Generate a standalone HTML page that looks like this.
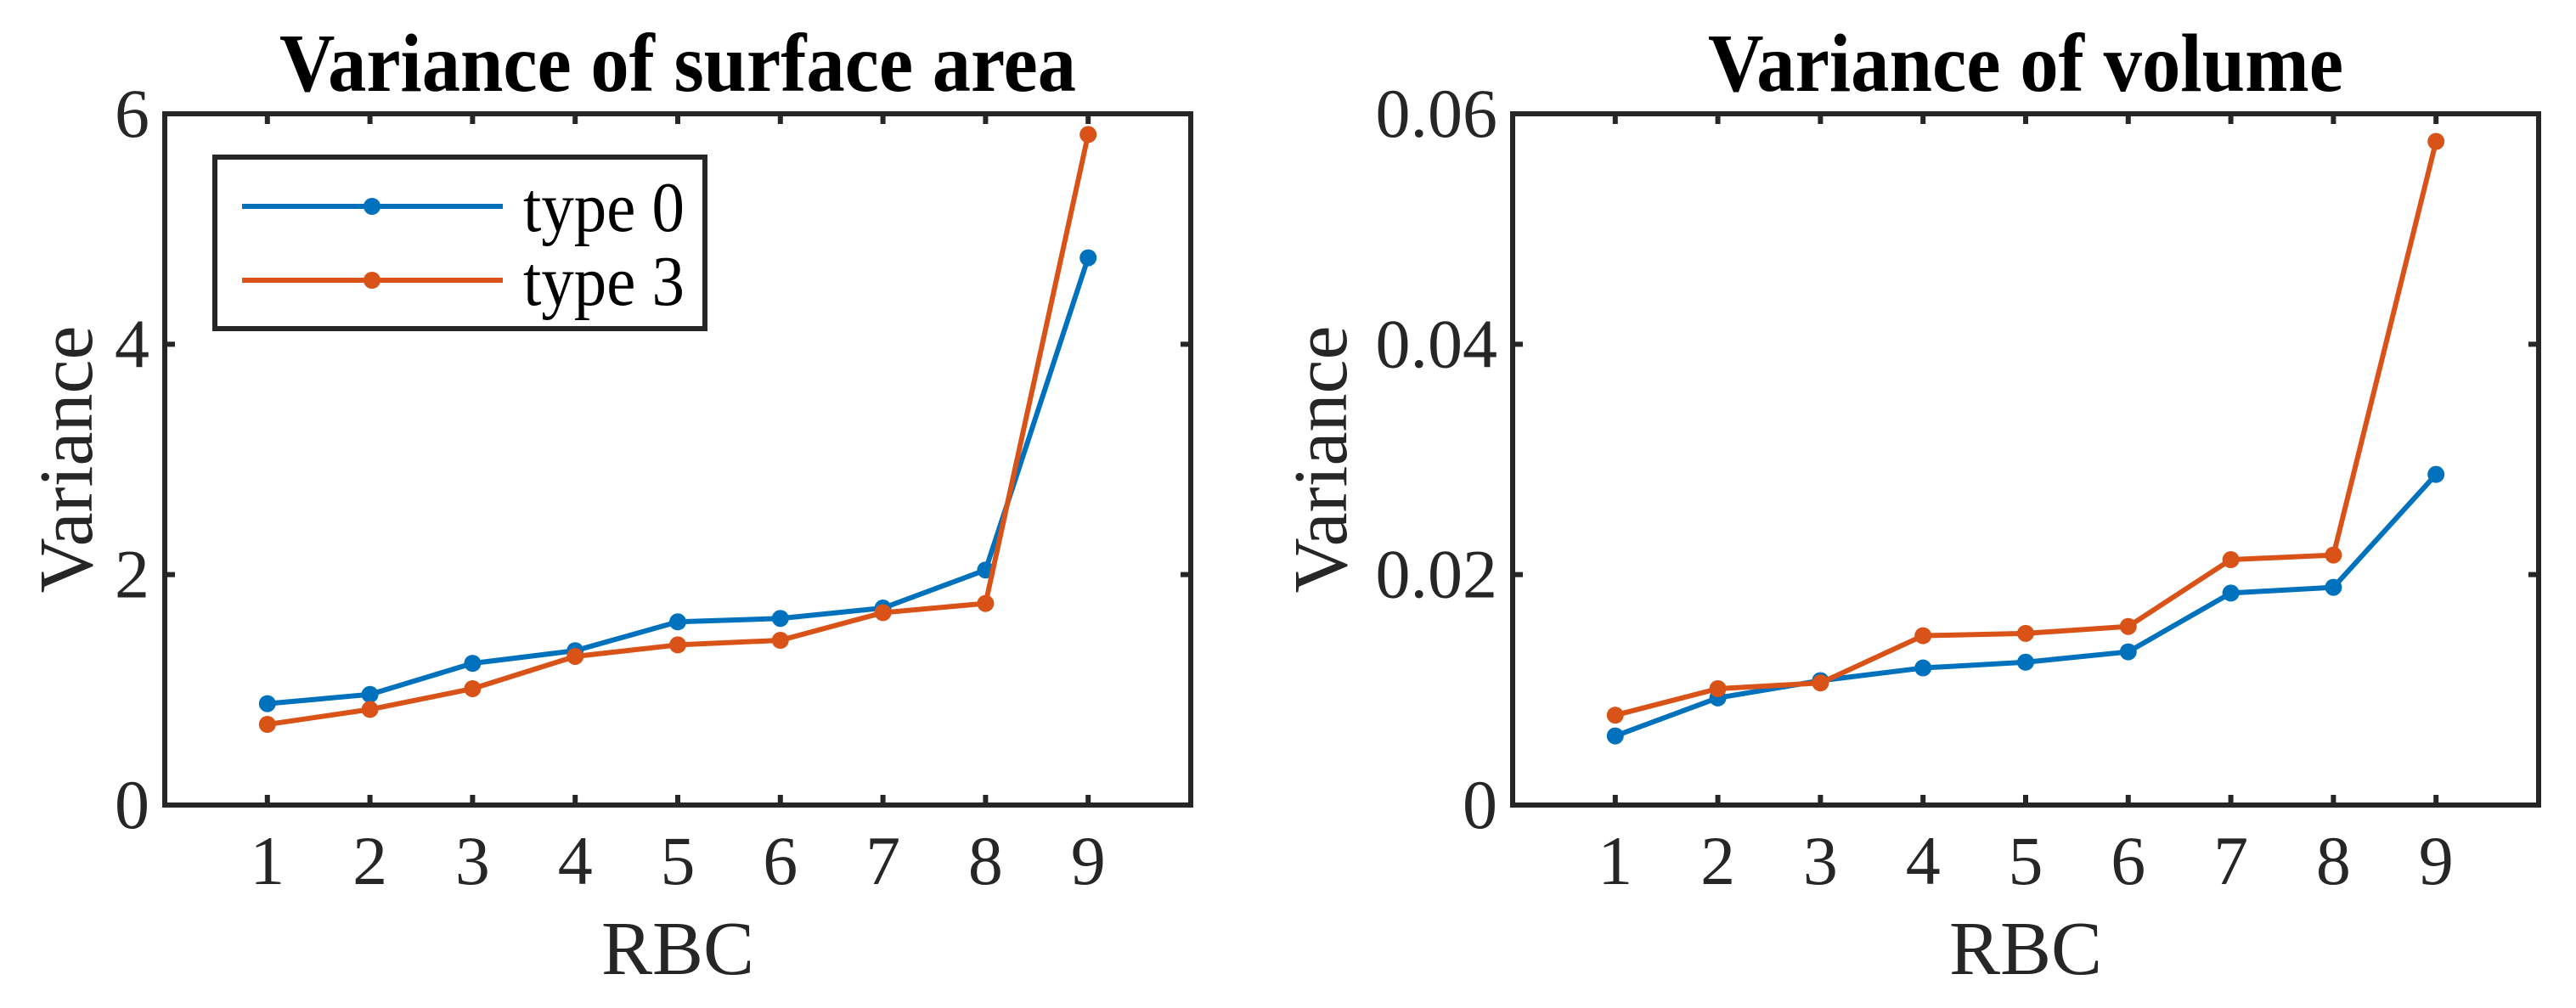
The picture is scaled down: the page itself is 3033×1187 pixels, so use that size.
<!DOCTYPE html>
<html><head><meta charset="utf-8"><style>
html,body{margin:0;padding:0;background:#fff;}
svg{display:block;}
text{font-family:"Liberation Serif",serif;fill:#262626;}
</style></head><body>
<svg id="fig" width="3033" height="1187" viewBox="0 0 3033 1187" xmlns="http://www.w3.org/2000/svg"></svg>
<script>
const categories = [1,2,3,4,5,6,7,8,9];
const areaType0 = [0.88,0.96,1.23,1.34,1.59,1.62,1.71,2.04,4.75];
const areaType3 = [0.70,0.83,1.01,1.29,1.39,1.43,1.67,1.75,5.82];
const volType0 = [0.0060,0.0093,0.0108,0.0119,0.0124,0.0133,0.0184,0.0189,0.0287];
const volType3 = [0.0078,0.0101,0.0106,0.0147,0.0149,0.0155,0.0213,0.0217,0.0576];
const areaTicks = [0,2,4,6];
const areaTickLabels = ["0","2","4","6"];
const volTicks = [0,0.02,0.04,0.06];
const volTickLabels = ["0","0.02","0.04","0.06"];
const seriesNames = ["type 0","type 3"];

const NS = "http://www.w3.org/2000/svg";
const svg = document.getElementById('fig');
const BLUE = "#0072BD", ORANGE = "#D95319", AX = "#262626";
function mk(tag, attrs, parent){
  const e = document.createElementNS(NS, tag);
  for (const k in attrs) e.setAttribute(k, attrs[k]);
  (parent||svg).appendChild(e);
  return e;
}
function panel(name, x0, x1, y0, y1, ymax, ticks, tickLabels, s0, s1, title, titleLen, ylabX, legend){
  const g = mk('g', {});
  
  
  const xs = v => x0 + (x1 - x0) * v / 10;
  const ys = v => y1 - (y1 - y0) * v / ymax;
  const t = mk('text', {x:(x0+x1)/2, y:107, 'text-anchor':'middle', 'font-size':97, 'font-weight':'bold', textLength:titleLen, lengthAdjust:'spacingAndGlyphs'}, g);
  t.style.fill = '#000';
  t.textContent = title;
  
  
  ticks.forEach((v,i) => {
    const y = ys(v);
    const tk = mk('path', {d:`M${x0} ${y}h12M${x1} ${y}h-12`, stroke:AX, 'stroke-width':6, fill:'none'}, g);
    
    
    const lb = mk('text', {x:x0-18, y:y+27, 'text-anchor':'end', 'font-size':82}, g);
    lb.textContent = tickLabels[i];
    
    
  });
  categories.forEach(c => {
    const x = xs(c);
    const tk = mk('path', {d:`M${x} ${y1}v-12M${x} ${y0}v12`, stroke:AX, 'stroke-width':6, fill:'none'}, g);
    
    
    const lb = mk('text', {x:x, y:1041, 'text-anchor':'middle', 'font-size':82}, g);
    lb.textContent = String(c);
    
    
  });
  const xl = mk('text', {x:(x0+x1)/2, y:1147, 'text-anchor':'middle', 'font-size':90}, g);
  xl.textContent = 'RBC';
  
  
  const yl = mk('text', {x:0, y:0, 'text-anchor':'middle', 'font-size':90, transform:`translate(${ylabX},${(y0+y1)/2}) rotate(-90)`}, g);
  yl.textContent = 'Variance';
  
  
  [[s0,BLUE,'series-type-0'],[s1,ORANGE,'series-type-3']].forEach(([data,col,nm]) => {
    const sg = mk('g', {}, g);
    
    
    const pts = data.map((v,i) => xs(categories[i]) + ',' + ys(v)).join(' ');
    const pl = mk('polyline', {points:pts, fill:'none', stroke:col, 'stroke-width':6, 'stroke-linejoin':'round'}, sg);
    
    
    data.forEach((v,i) => {
      const c = mk('circle', {cx:xs(categories[i]), cy:ys(v), r:10, fill:col}, sg);
      
      
    });
  });
  const box = mk('rect', {x:x0, y:y0, width:x1-x0, height:y1-y0, fill:'none', stroke:AX, 'stroke-width':6}, g);
  
  
  if (legend){
    const lg = mk('g', {}, g);
    
    
    mk('rect', {x:253, y:185, width:577, height:202, fill:'#fff', stroke:AX, 'stroke-width':6}, lg);
    [[BLUE,243],[ORANGE,330]].forEach(([col,y],i) => {
      const en = mk('g', {}, lg);
      
      
      mk('line', {x1:285, x2:592, y1:y, y2:y, stroke:col, 'stroke-width':6}, en);
      mk('circle', {cx:438, cy:y, r:10, fill:col}, en);
      const tx = mk('text', {x:616, y:y+29, 'font-size':84, textLength:190, lengthAdjust:'spacingAndGlyphs'}, en);
      tx.style.fill = '#000';
      tx.textContent = seriesNames[i];
    });
  }
}
panel('surface-area-chart', 194, 1402, 134, 948, 6, areaTicks, areaTickLabels, areaType0, areaType3, 'Variance of surface area', 938, 108, true);
panel('volume-chart', 1781, 2989, 134, 948, 0.06, volTicks, volTickLabels, volType0, volType3, 'Variance of volume', 748, 1585, false);
</script>
</body></html>
